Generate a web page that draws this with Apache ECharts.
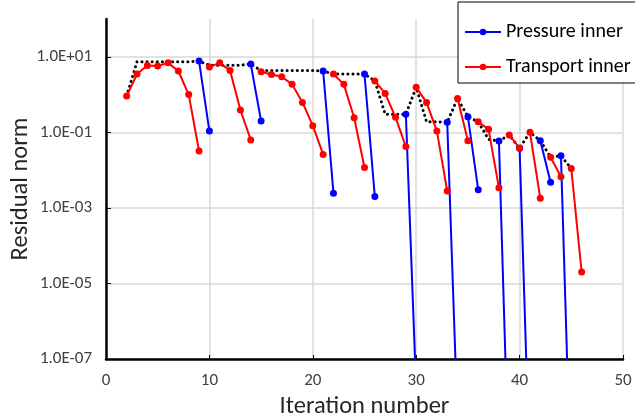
<!DOCTYPE html>
<html>
<head>
<meta charset="utf-8">
<script src="https://cdn.jsdelivr.net/npm/echarts@6/dist/echarts.min.js"></script>
<style>
  html, body { margin: 0; padding: 0; background: #fff; }
  #chart { width: 635px; height: 419px; }
</style>
</head>
<body>
<div id="chart"></div>
<script>
// Inner solves: each run begins at an iteration and lists its residuals
const pressureStarts = [9, 14, 21, 25, 29, 33, 35, 38, 40, 42, 44];
const pressureRuns = [
  [7.7, 0.108],
  [6.4, 0.20],
  [4.2, 0.00245],
  [3.5, 0.0020],
  [0.30, 1.5e-8],
  [0.184, 2.4e-9],
  [0.26, 0.0030],
  [0.059, 4e-11],
  [0.038, 8e-11],
  [0.06, 0.0048],
  [0.024, 2e-11]
];

const transportStarts = [2, 10, 15, 22, 26, 30, 34, 36, 39, 41, 43, 45];
const transportRuns = [
  [0.91, 3.5, 5.9, 5.7, 6.9, 4.2, 1.0, 0.032],
  [5.4, 6.9, 4.3, 0.39, 0.063],
  [4.0, 3.4, 2.95, 1.86, 0.62, 0.15, 0.026],
  [3.5, 1.86, 0.243, 0.0117],
  [2.3, 1.07, 0.25, 0.042],
  [1.55, 0.62, 0.108, 0.0028],
  [0.79, 0.06],
  [0.19, 0.12, 0.0034],
  [0.085, 0.038],
  [0.1, 0.0018],
  [0.022, 0.0067],
  [0.011, 2.0e-5]
];

// Outer residual, one value per iteration
const outerFirstIter = 2;
const outerValues = [
  0.91, 7.4, 7.4, 7.4, 7.4, 7.4, 7.4, 7.7,
  6.0, 6.0, 6.0, 6.0, 6.4,
  4.3, 4.3, 4.3, 4.3, 4.3, 4.3, 4.2,
  3.5, 3.5, 3.5, 3.5, 2.3,
  0.30, 0.30, 0.30, 1.55,
  0.19, 0.19, 0.184, 0.79, 0.26, 0.19, 0.065, 0.059,
  0.085, 0.038, 0.1, 0.06, 0.022, 0.024, 0.011
];

const xTicks = { min: 0, max: 50, step: 10 };
const yRange = { min: 1e-7, max: 1e2 };

const FONT = 'Carlito, Lato, "Open Sans", sans-serif';
const BLUE = '#0000ff';
const RED = '#ff0000';

function toPairs(start, vals) {
  return vals.map((v, i) => [start + i, v]);
}

function runSeries(name, color, starts, runs) {
  return runs.map((vals, k) => ({
    name: name,
    type: 'line',
    data: toPairs(starts[k], vals),
    symbol: 'circle',
    symbolSize: 7,
    itemStyle: { color: color },
    lineStyle: { color: color, width: 2 },
    emphasis: { disabled: true },
    animation: false,
    clip: true
  }));
}

function sciLabel(v) {
  const e = Math.round(Math.log10(v));
  const sign = e < 0 ? '-' : '+';
  const abs = Math.abs(e);
  return '1.0E' + sign + (abs < 10 ? '0' + abs : abs);
}

const series = [
  {
    name: 'Outer',
    type: 'line',
    data: toPairs(outerFirstIter, outerValues),
    showSymbol: false,
    symbol: 'none',
    lineStyle: { color: '#000', width: 3, type: [0.1, 5], cap: 'round' },
    emphasis: { disabled: true },
    animation: false,
    z: 1
  }
].concat(
  runSeries('Pressure inner', BLUE, pressureStarts, pressureRuns),
  runSeries('Transport inner', RED, transportStarts, transportRuns)
);

const chart = echarts.init(document.getElementById('chart'), null, { renderer: 'canvas' });
chart.setOption({
  backgroundColor: '#fff',
  animation: false,
  textStyle: { fontFamily: FONT },
  grid: { left: 106, right: 12, top: 19, bottom: 60, containLabel: false, outerBoundsMode: 'none' },
  legend: {
    data: ['Pressure inner', 'Transport inner'],
    orient: 'vertical',
    left: 458,
    top: 2,
    padding: [20, 20, 6, 6],
    itemGap: 15,
    itemWidth: 36,
    itemHeight: 8,
    borderColor: '#000',
    borderWidth: 1,
    backgroundColor: '#fff',
    textStyle: { fontFamily: FONT, fontSize: 20, color: '#000' }
  },
  xAxis: {
    type: 'value',
    min: xTicks.min,
    max: xTicks.max,
    interval: xTicks.step,
    name: 'Iteration number',
    nameLocation: 'middle',
    nameGap: 35,
    nameMoveOverlap: false,
    nameTextStyle: { fontFamily: FONT, fontSize: 24.5, color: '#262626' },
    axisLine: { show: true, onZero: false, lineStyle: { color: '#000', width: 2.5 } },
    axisTick: { show: true, inside: true, length: 4, lineStyle: { color: '#000' } },
    axisLabel: { fontFamily: FONT, fontSize: 17, color: '#404040', margin: 13 },
    splitLine: { show: true, lineStyle: { color: '#d9d9d9', width: 1.5 } }
  },
  yAxis: {
    type: 'log',
    logBase: 10,
    min: yRange.min,
    max: yRange.max,
    interval: 2,
    name: 'Residual norm',
    nameLocation: 'middle',
    nameGap: 73,
    nameMoveOverlap: false,
    nameTextStyle: { fontFamily: FONT, fontSize: 24.5, color: '#262626' },
    axisLine: { show: true, lineStyle: { color: '#000', width: 2.5 } },
    axisTick: { show: true, inside: true, length: 5, lineStyle: { color: '#000' } },
    axisLabel: {
      fontFamily: FONT, fontSize: 17, color: '#404040', margin: 14,
      showMaxLabel: false,
      formatter: v => (v > 11 ? '' : sciLabel(v))
    },
    splitLine: { show: true, showMaxLine: false, lineStyle: { color: '#d9d9d9', width: 1.5 } }
  },
  series: series
});
</script>
</body>
</html>
